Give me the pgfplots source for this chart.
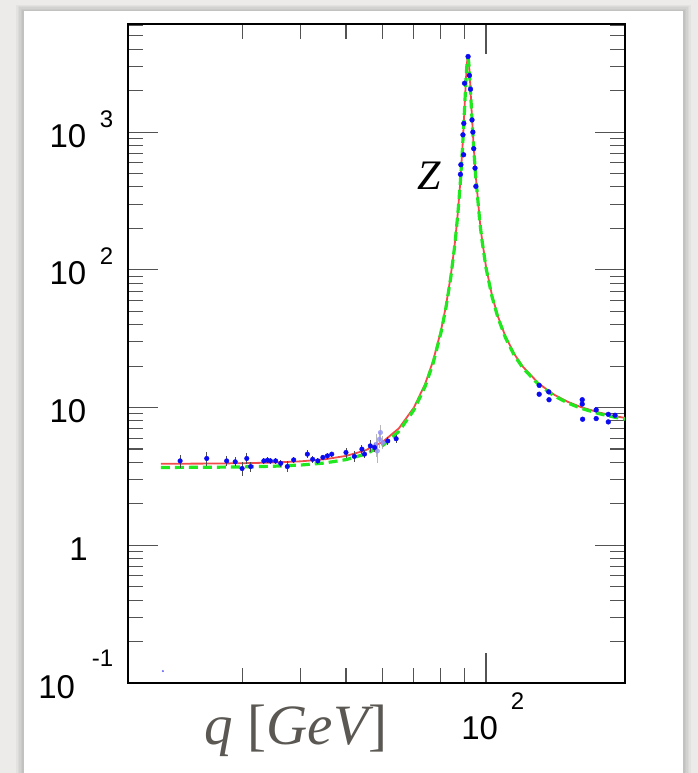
\documentclass[border=0pt]{standalone}
\usepackage{pgfplots}
\pgfplotsset{compat=1.18}
\usepackage{fontspec}
\setmainfont{Liberation Serif}
\newfontfamily\ticksans{Liberation Sans}

\definecolor{paper}{HTML}{ECEBE9}
\definecolor{redline}{HTML}{F24A4A}
\definecolor{greenline}{HTML}{1FE81F}
\definecolor{datablue}{HTML}{0B0BF2}
\definecolor{labelgray}{HTML}{5B5853}

\newcommand{\expo}[2]{\raisebox{#1}{\fontsize{24}{24}\selectfont #2}}

% R(q): theory curve (red) and fit (green)
\pgfplotstableread{
q R
20 3.908
25 3.920
30 3.944
35 3.990
40 4.071
45 4.212
50 4.455
55 4.881
60 5.644
65 7.08
70 10.01
74 14.86
77 21.95
80 36.1
82 54.6
84 90.9
85.5 145.6
86 174.4
87 262
88 426
89 774
89.8 1372
90 1599
90.5 2336
90.8 2849
91 3162
91.2 3394
91.4 3499
91.6 3454
91.8 3273
92 2997
92.3 2513
92.6 2049
93 1546
94 816
95 490
96.5 274
97 224.7
98 168.5
100 105.2
103 65.3
106 46.2
110 33.1
115 24.5
120 19.8
130 14.87
140 12.42
150 11.0
160 10.08
175 9.21
190 8.65
199 8.41
}\redcurve

\pgfplotstableread{
q R
20 3.674
25 3.685
30 3.707
35 3.751
40 3.827
45 3.959
50 4.188
55 4.588
60 5.305
65 6.73
70 9.61
74 14.27
77 21.07
80 35.0
82 53.0
84 88.2
85.5 142.7
86 170.9
87 256.8
88 417
89 759
89.8 1345
90 1567
90.5 2289
90.8 2792
91 3099
91.2 3326
91.4 3429
91.6 3385
91.8 3208
92 2937
92.3 2463
92.6 2008
93 1515
94 800
95 480
96.5 268.5
97 220.2
98 165.1
100 103.1
103 64.0
106 45.3
110 32.4
115 24.0
120 19.4
130 14.57
140 12.17
150 10.78
160 9.88
175 9.03
190 8.48
199 8.24
}\greencurve

% low energy data
\pgfplotstableread{
q R e
22.0 4.10 0.45
25.1 4.27 0.50
27.7 4.10 0.35
28.9 4.04 0.30
29.9 3.61 0.40
30.6 4.27 0.40
31.2 3.73 0.30
33.3 4.10 0.20
33.9 4.15 0.20
34.4 4.10 0.20
35.3 4.10 0.20
36.2 3.94 0.25
37.4 3.73 0.35
38.6 4.17 0.20
41.3 4.59 0.30
42.4 4.21 0.25
43.5 4.10 0.20
44.6 4.35 0.20
45.6 4.46 0.20
46.6 4.59 0.20
50.0 4.72 0.40
52.1 4.42 0.40
54.1 4.99 0.40
54.8 4.59 0.30
56.4 5.27 0.50
57.6 5.13 0.40
61.5 5.72 0.40
64.1 5.94 0.40
}\lowdata

\pgfplotstableread{
q R e
58.0 5.40 1.00
58.4 4.84 0.90
59.0 5.89 0.80
59.3 6.59 0.90
60.0 5.57 0.60
}\lowlight

% Z peak and above
\pgfplotstableread{
q R
88.1 494
88.3 580
89.2 956
89.5 685
89.6 1157
89.9 2265
91.5 3540
92.1 2582
92.6 2051
93.3 1227
93.7 1000
94.1 759
94.7 548
95.1 404
130.1 14.5
130.1 12.5
136.4 13.0
136.6 11.4
161.0 11.4
161.0 10.6
161.3 8.23
172.5 9.62
172.5 8.32
183.2 8.93
183.2 7.87
189.4 8.79
}\highdata

\begin{document}
\begin{tikzpicture}
\fill[paper] (0pt,0pt) rectangle (698pt,773pt);
\foreach \i in {1,...,5}
  \fill[black,opacity=0.035] ({24pt-\i*1.6pt},0pt) rectangle ({683pt+\i*1.6pt},{762pt+\i*1.2pt});
\fill[white] (24pt,0pt) rectangle (683pt,762pt);
\begin{axis}[
  at={(128pt,90pt)}, anchor=south west,
  scale only axis, width=497pt, height=659pt,
  xmode=log, ymode=log,
  xmin=17, xmax=199, ymin=0.1, ymax=6100,
  axis line style={line width=2.8pt, black},
  tick align=inside,
  xtick pos=both, ytick pos=both,
  xticklabel pos=lower, yticklabel pos=left,
  major tick length=30pt, minor tick length=15pt,
  tick style={color=gray!65!black, line width=1.1pt},
  xtick={100},
  minor xtick={30,40,50,60,70,80,90},
  xticklabels={{10\kern12.7pt\expo{30pt}{2}}},
  xticklabel style={font=\ticksans\fontsize{33}{33}\selectfont, anchor=base,
    inner sep=0pt, xshift=6.7pt, yshift=-56pt},
  ytick={0.1,1,10,100,1000},
  minor ytick={0.2,0.3,0.4,0.5,0.6,0.7,0.8,0.9,2,3,4,5,6,7,8,9,
    20,30,40,50,60,70,80,90,200,300,400,500,600,700,800,900,2000,3000,4000,5000,6000},
  yticklabels={{10\kern17pt\expo{32pt}{-1}},{1\kern25.5pt},{10\kern27pt},
    {10\kern13.7pt\expo{20pt}{2}},{10\kern13.7pt\expo{20pt}{3}}},
  yticklabel style={font=\ticksans\fontsize{33}{33}\selectfont, anchor=base east,
    inner sep=0pt, xshift=-14.5pt, yshift=-15pt},
  xlabel={{\itshape q} [{\itshape GeV}]},
  xlabel style={at={(axis description cs:0.338,-0.0926)}, anchor=base,
    font=\fontsize{57}{57}\selectfont, text=labelgray, inner sep=0pt},
]
\addplot[redline, line width=1.8pt] table[x=q, y=R] {\redcurve};
\addplot[greenline, line width=3.2pt, dash pattern=on 9pt off 5pt] table[x=q, y=R] {\greencurve};

\addplot[only marks, mark=*, mark size=2.3pt, datablue!45, opacity=0.8,
  error bars/.cd, y dir=both, y explicit, error mark=none,
  error bar style={line width=0.9pt, color=gray!70}] table[x=q, y=R, y error=e] {\lowlight};
\addplot[only marks, mark=*, mark size=2.3pt, datablue,
  error bars/.cd, y dir=both, y explicit, error mark=none,
  error bar style={line width=0.9pt, color=gray!60!black}] table[x=q, y=R, y error=e] {\lowdata};
\addplot[only marks, mark=*, mark size=2.4pt, datablue] table[x=q, y=R] {\highdata};
\addplot[only marks, mark=*, mark size=0.8pt, datablue!60] coordinates {(20.2,0.122)};

\node[font=\fontsize{42}{42}\selectfont\itshape, anchor=base] at (axis cs:75.4,383.5) {Z};
\end{axis}
\pgfresetboundingbox
\useasboundingbox (0pt,0pt) rectangle (698pt,773pt);
\end{tikzpicture}
\end{document}
